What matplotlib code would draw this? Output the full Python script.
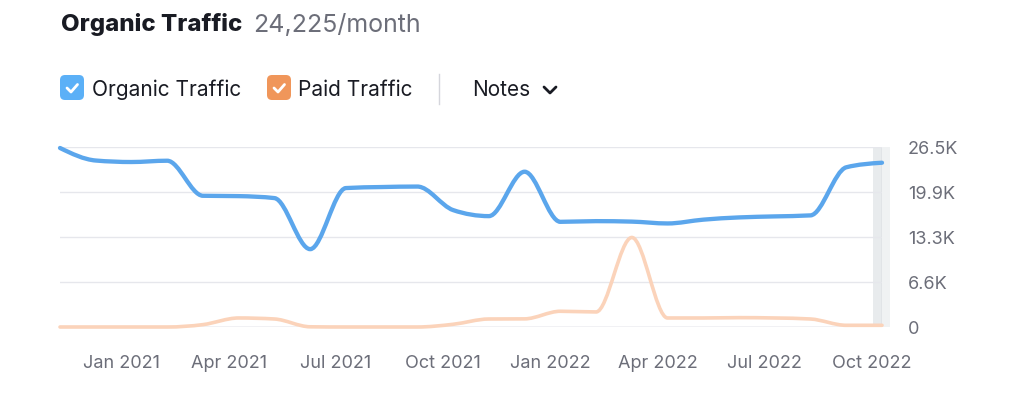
import numpy as np
import matplotlib
matplotlib.use("Agg")
import matplotlib.pyplot as plt
from matplotlib.path import Path
from matplotlib.patches import PathPatch, FancyBboxPatch
from matplotlib.lines import Line2D
from matplotlib.transforms import IdentityTransform

plt.rcParams['font.family'] = ['Inter', 'DejaVu Sans']

# data
months = ["Nov 2020", "Dec 2020", "Jan 2021", "Feb 2021", "Mar 2021", "Apr 2021",
          "May 2021", "Jun 2021", "Jul 2021", "Aug 2021", "Sep 2021", "Oct 2021",
          "Nov 2021", "Dec 2021", "Jan 2022", "Feb 2022", "Mar 2022", "Apr 2022",
          "May 2022", "Jun 2022", "Jul 2022", "Aug 2022", "Sep 2022", "Oct 2022"]
organic = [26400, 24550, 24330, 24520, 19350, 19300, 19010, 11480, 20490, 20640,
           20710, 17240, 16350, 22900, 15510, 15610, 15540, 15270, 15830, 16160,
           16310, 16460, 23550, 24225]
paid = [0, 0, 0, 0, 350, 1330, 1180, 30, 0, 0, 0, 400, 1180, 1200, 2320, 2220,
        13200, 1330, 1330, 1380, 1330, 1180, 250, 250]
xtick_labels = ["Jan 2021", "Apr 2021", "Jul 2021", "Oct 2021",
                "Jan 2022", "Apr 2022", "Jul 2022", "Oct 2022"]
ytick_labels = ["0", "6.6K", "13.3K", "19.9K", "26.5K"]
y_max = 26500

W, H = 1024, 396
DARK = '#191b23'
GREY = '#6c6e79'
BLUE = '#5ba6ec'
PEACH = '#fbd3ba'


def monotone_path(xs, ys):
    # smooth monotone curve (like d3.curveMonotoneX) as bezier segments
    xs = np.asarray(xs, float)
    ys = np.asarray(ys, float)
    n = len(xs)
    h = np.diff(xs)
    s = np.diff(ys) / h
    t = np.zeros(n)
    for i in range(1, n - 1):
        p = (s[i - 1] * h[i] + s[i] * h[i - 1]) / (h[i - 1] + h[i])
        t[i] = (np.sign(s[i - 1]) + np.sign(s[i])) * min(abs(s[i - 1]), abs(s[i]), 0.5 * abs(p))
    t[0] = (3 * s[0] - t[1]) / 2
    t[-1] = (3 * s[-1] - t[-2]) / 2
    verts = [(xs[0], ys[0])]
    codes = [Path.MOVETO]
    for i in range(n - 1):
        d = h[i] / 3
        verts += [(xs[i] + d, ys[i] + d * t[i]),
                  (xs[i + 1] - d, ys[i + 1] - d * t[i + 1]),
                  (xs[i + 1], ys[i + 1])]
        codes += [Path.CURVE4] * 3
    return Path(verts, codes)


fig = plt.figure(figsize=(W / 100, H / 100), dpi=100)
ax = fig.add_axes([60 / W, 69 / H, 822 / W, 179.7 / H])

x = np.arange(len(months))
last = x[-1]

# hover band on the last point
ax.axvspan(last - 0.24, last, color='#e8ebed', lw=0, zorder=1, clip_on=False)
ax.axvspan(last, last + 0.23, color='#f0f2f3', lw=0, zorder=1, clip_on=False)
ax.axvline(last, color='#c8ccd0', lw=1, zorder=1.5)

ax.add_patch(PathPatch(monotone_path(x, paid), fill=False, edgecolor=PEACH, lw=2.6,
                       capstyle='round', joinstyle='round', zorder=3, clip_on=False))
ax.add_patch(PathPatch(monotone_path(x, organic), fill=False, edgecolor=BLUE, lw=3.1,
                       capstyle='round', joinstyle='round', zorder=4, clip_on=False))

ax.set_xlim(0, last)
ax.set_ylim(0, y_max)
for sp in ax.spines.values():
    sp.set_visible(False)
ax.set_yticks(np.linspace(0, y_max, len(ytick_labels)))
ax.set_yticklabels(ytick_labels)
ax.yaxis.tick_right()
ax.grid(axis='y', color='#e6e7ec', lw=1, zorder=0)
ax.axhline(0, color='#cfd1d8', lw=1, zorder=2)
ax.set_xticks([months.index(m) - 0.28 for m in xtick_labels])
ax.set_xticklabels(xtick_labels)
ax.tick_params(axis='both', length=0, labelsize=13, labelcolor=GREY)
ax.tick_params(axis='x', pad=20)
ax.tick_params(axis='y', pad=18.5)
for lab in ax.get_yticklabels():
    lab.set_verticalalignment('center_baseline')

# title
fig.text(61 / W, 1 - 31.5 / H, "Organic Traffic", fontsize=17.3, fontweight='heavy',
         color=DARK, va='baseline')
fig.text(253 / W, 1 - 31.5 / H, "24,225/month", fontsize=18, color=GREY, va='baseline')

# legend row
idt = IdentityTransform()


def checkbox(x0, color):
    fig.add_artist(FancyBboxPatch((x0, H - 100), 24, 25,
                                  boxstyle="round,pad=0,rounding_size=5",
                                  fc=color, ec='none', transform=idt))
    fig.add_artist(Line2D([x0 + 7, x0 + 11, x0 + 17.5], [H - 88, H - 92, H - 84.5],
                          color='white', lw=2, solid_capstyle='round',
                          solid_joinstyle='round', transform=idt))


checkbox(60, '#5bb0f7')
fig.text(92 / W, 1 - 96.5 / H, "Organic Traffic", fontsize=15, color=DARK, va='baseline')
checkbox(267, '#f0965a')
fig.text(298 / W, 1 - 96.5 / H, "Paid Traffic", fontsize=15, color=DARK, va='baseline')
fig.add_artist(Line2D([439, 439], [H - 74, H - 104], color='#d5d6dc', lw=1, transform=idt))
fig.text(472 / W, 1 - 96.5 / H, "Notes", fontsize=15, color=DARK, va='baseline')
fig.add_artist(Line2D([544, 550, 556], [H - 87, H - 93, H - 87], color=DARK, lw=2,
                      solid_capstyle='round', solid_joinstyle='round', transform=idt))

fig.savefig("out.png", dpi=100)
